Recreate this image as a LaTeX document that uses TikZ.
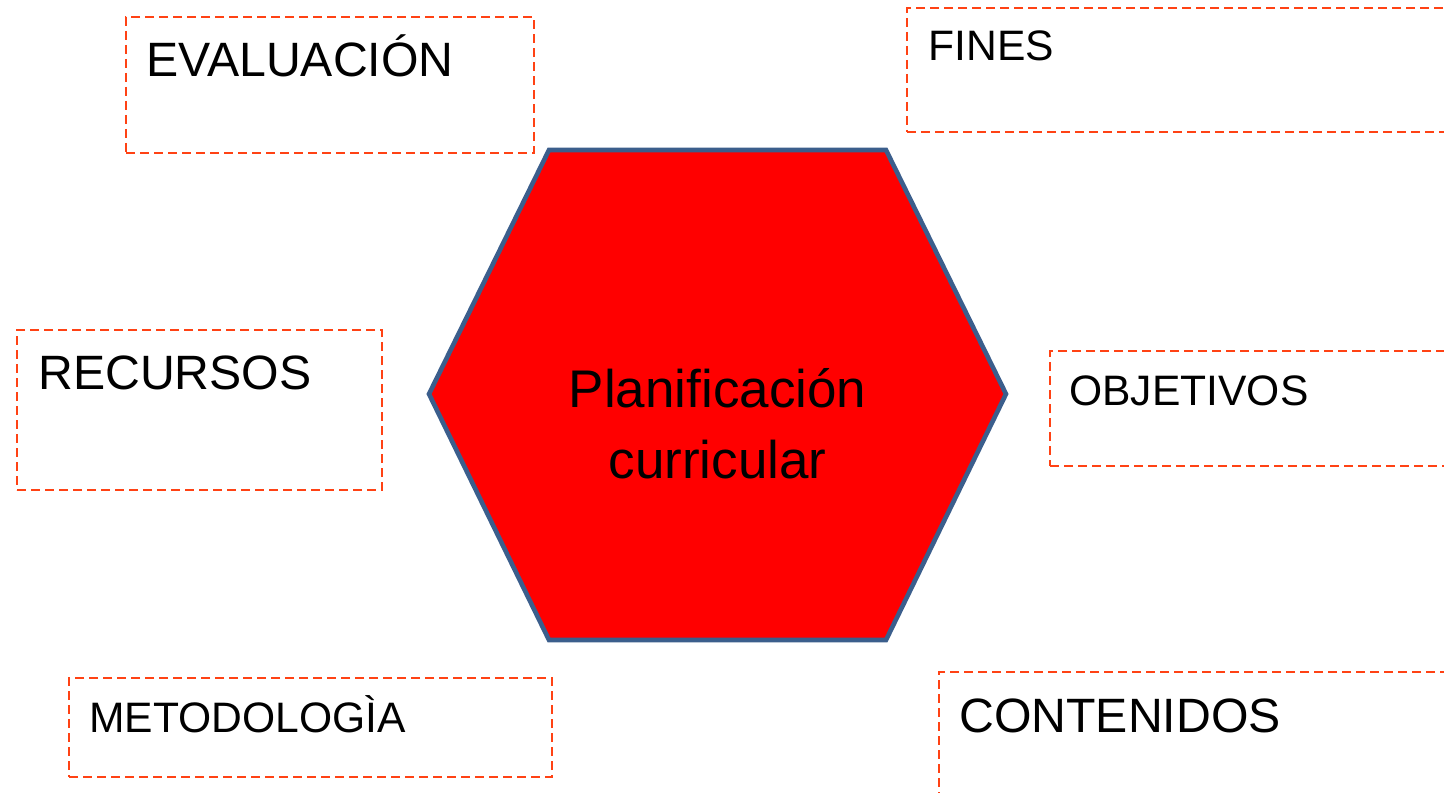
\documentclass[tikz,border=0pt]{standalone}
\usepackage{fontspec}
\setmainfont{Liberation Sans}
\usetikzlibrary{fit}
\definecolor{dashred}{RGB}{255,66,20}
\definecolor{hexblue}{RGB}{59,94,140}
\definecolor{hexred}{RGB}{255,0,0}
\tikzset{
  box/.style={draw=dashred, line width=1.25pt, dash pattern=on 4.3pt off 2.7pt, inner sep=0pt},
  biglbl/.style={anchor=base west, inner sep=0pt, font=\fontsize{24.1pt}{28pt}\selectfont},
  smalllbl/.style={anchor=base west, inner sep=0pt, font=\fontsize{21.3pt}{25pt}\selectfont},
  hexstyle/.style={draw=hexblue, fill=hexred, line width=2.3pt, line join=miter},
  centerlbl/.style={align=center, inner sep=0pt, font=\fontsize{26.5pt}{35.5pt}\selectfont}
}
\begin{document}
\begin{tikzpicture}[x=0.5pt, y=-0.5pt]
\useasboundingbox (0,0) rectangle (1444,792);
\clip (0,0) rectangle (1444,792);
% hexagon
\draw[hexstyle] (549,150) -- (886,150) -- (1006,394) -- (886,640) -- (549,640) -- (429,394) -- cycle;
\coordinate (hexc) at (717.5,395);
\node[centerlbl, anchor=base] (plan) at (717.5,407) {Planificación};
\node[centerlbl, anchor=base] (curr) at (717.5,478) {curricular};
% boxes
\node[box, fit={(126,17) (534,153)}] (evalbox) {};
\node[biglbl] (eval) at (146,77) {EVALUACIÓN};
\node[box, fit={(907,8) (1470,132)}] (finbox) {};
\node[smalllbl] (fin) at (928,61) {FINES};
\node[box, fit={(17,330) (382,490)}] (recbox) {};
\node[biglbl] (rec) at (38,389) {RECURSOS};
\node[box, fit={(1050,351) (1470,466)}] (objbox) {};
\node[smalllbl] (obj) at (1069,405) {OBJETIVOS};
\node[box, fit={(69,678) (552,777)}] (metbox) {};
\node[smalllbl] (met) at (89,732) {METODOLOGÌA};
\node[box, fit={(939,672) (1470,820)}] (conbox) {};
\node[biglbl] (con) at (959,732) {CONTENIDOS};
\end{tikzpicture}
\end{document}
